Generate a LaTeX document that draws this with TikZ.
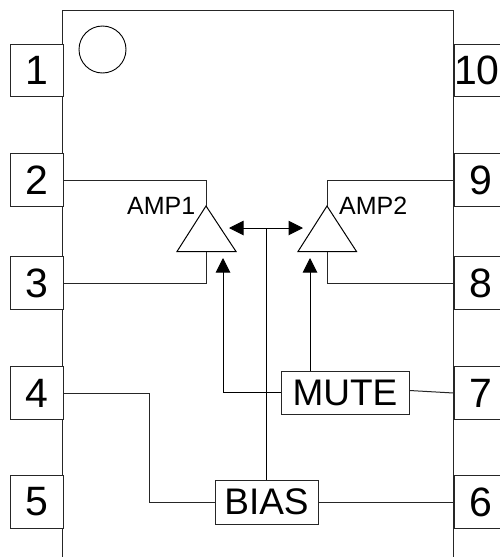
\documentclass[tikz,border=0pt]{standalone}
\usepackage{fontspec}
\setmainfont{Liberation Sans}
\usetikzlibrary{arrows.meta}
\tikzset{
  x=1pt,y=-1pt,
  wire/.style={draw=black!85,line width=1pt},
  pin/.style={draw=black!85,line width=1pt,fill=white,minimum width=53pt,minimum height=52.5pt,inner sep=0pt,font=\fontsize{41}{41}\selectfont},
  block/.style={draw=black!85,line width=1pt,fill=white,inner sep=0pt,font=\fontsize{37}{37}\selectfont},
  amp/.style={draw=black,line width=1pt,fill=white,line join=miter},
  lab/.style={inner sep=0pt,font=\fontsize{25}{25}\selectfont},
  tip/.style={-{Triangle[length=14.5pt,width=14.5pt]}}
}
\begin{document}
\begin{tikzpicture}
\useasboundingbox (0,0) rectangle (500,557);
\fill[white] (0,0) rectangle (500,557);
\coordinate (bl) at (62.5,557);
\coordinate (tl) at (62.5,10.5);
\coordinate (tr) at (453.5,10.5);
\coordinate (br) at (453.5,557);
\draw[wire] (bl) -- (tl) -- (tr) -- (br);
\node[draw=black,line width=0.9pt,circle,minimum size=47pt,inner sep=0pt] (dot) at (102.5,49.5) {};
\foreach \n/\y in {1/70.5,2/180,3/283,4/393,5/502}
  \node[pin] (p\n) at (36.5,\y) {\n};
\node[pin,anchor=west] (p10) at (453.5,70.5) {10\rule{7pt}{0pt}};
\foreach \n/\y in {9/180,8/283,7/393,6/502}
  \node[pin,anchor=west] (p\n) at (453.5,\y) {\n};
\node[block,minimum width=128pt,minimum height=43pt] (mute) at (345,392.5) {MUTE};
\node[block,minimum width=103pt,minimum height=44pt] (bias) at (266.5,502) {BIAS};
\coordinate (a1t) at (206,206); \coordinate (a1b) at (206,251.5);
\coordinate (a2t) at (327,206); \coordinate (a2b) at (327,251.5);
\draw[amp] (a1t) -- (177,251.5) -- (236,251.5) -- cycle;
\draw[amp] (a2t) -- (298,251.5) -- (356.5,251.5) -- cycle;
\node[lab,anchor=east] (l1) at (195.5,206) {AMP1};
\node[lab,anchor=west] (l2) at (339,206) {AMP2};
\draw[wire] (p2.east) -- (a1t |- p2.east) -- (a1t);
\draw[wire] (p3.east) -- (a1b |- p3.east) -- (a1b);
\draw[wire] (p9.west) -- (a2t |- p9.west) -- (a2t);
\draw[wire] (p8.west) -- (a2b |- p8.west) -- (a2b);
\coordinate (dl) at (229,228); \coordinate (dr) at (303,228);
\coordinate (dm) at (266,228);
\draw[wire,draw=black,{Triangle[length=14.5pt,width=14.5pt]}-{Triangle[length=14.5pt,width=14.5pt]}] (dl) -- (dr);
\draw[wire,draw=black] (dm) -- (dm |- bias.north);
\coordinate (t1) at (223,258); \coordinate (t2) at (310,258);
\draw[wire,draw=black,tip] (mute.west) -- (t1 |- mute.west) -- (t1);
\draw[wire,draw=black,tip] (t2 |- mute.north) -- (t2);
\draw[wire] ([yshift=2pt]mute.east) -- (p7.west);
\draw[wire] (p4.east) -- (149,393) -- (149,502) -- (bias.west);
\draw[wire] (bias.east) -- (p6.west);
\end{tikzpicture}
\end{document}
